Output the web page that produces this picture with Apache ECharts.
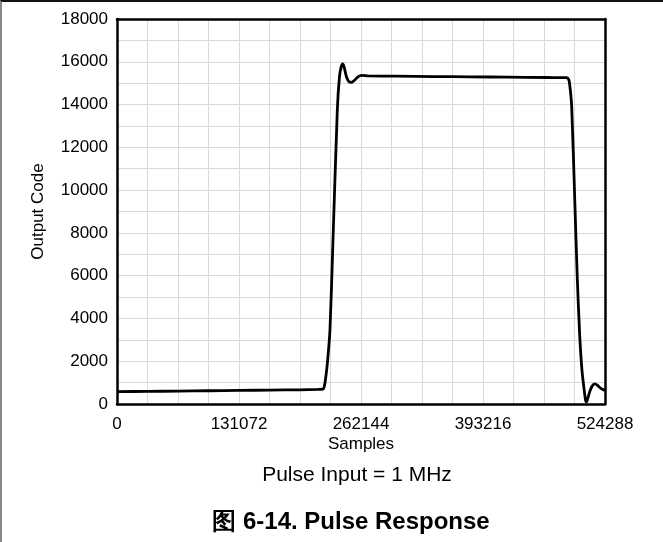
<!DOCTYPE html>
<html>
<head>
<meta charset="utf-8">
<script src="https://cdn.jsdelivr.net/npm/echarts@6/dist/echarts.min.js"></script>
<style>
  html, body { margin: 0; padding: 0; background: #fff; }
  #frame {
    width: 663px; height: 542px; box-sizing: border-box;
    border-top: 2px solid #111; border-left: 2px solid #888;
    position: relative; overflow: hidden;
  }
  #chart { position: absolute; left: -2px; top: -2px; width: 663px; height: 542px; }
</style>
</head>
<body>
<div id="frame"><div id="chart"></div></div>
<script>
// Sample index of each captured point (x) and the ADC output code (y)
const sampleIndex = [
  0, 32768, 65536, 98304, 131072, 163840, 196608, 216000, 221000,
  222500, 224000, 226000, 228800, 232000, 236700, 239000, 241000,
  242500, 244000, 246500, 249000, 252000, 255500, 259000, 263000,
  270000, 300000, 340000, 380000, 420000, 460000, 480000, 483000,
  484500, 486000, 488500, 492000, 494500, 497000, 499500, 501800,
  503500, 504500, 506000, 508500, 511000, 513500, 516000, 519000,
  522000, 524288
];
const outputCode = [
  580, 590, 605, 620, 635, 650, 665, 680, 690,
  780, 1150, 1900, 3460, 7600, 13745, 15300, 15800,
  15900, 15750, 15300, 15080, 15040, 15150, 15300, 15360,
  15340, 15325, 15310, 15295, 15280, 15265, 15258, 15255,
  15230, 15050, 13900, 9250, 5900, 3300, 1600, 700,
  150, 100, 300, 650, 870, 940, 880, 760,
  680, 640
];

// Labelled ticks on each axis
const xTickLabels = [0, 131072, 262144, 393216, 524288];
const yTickLabels = [0, 2000, 4000, 6000, 8000, 10000, 12000, 14000, 16000, 18000];

const xName = 'Samples';
const yName = 'Output Code';
const subTitle = 'Pulse Input = 1 MHz';
const mainTitle = '图 6-14. Pulse Response';

const points = sampleIndex.map((s, i) => [s, outputCode[i]]);

const font = '"Liberation Sans", Arial, sans-serif';
const chart = echarts.init(document.getElementById('chart'), null, { renderer: 'canvas' });

const gridLine = { show: true, lineStyle: { color: '#d9d9d9', width: 1 }, showMinLine: false, showMaxLine: false };
const frameLine = { show: true, onZero: false, lineStyle: { color: '#000', width: 2.5 } };

chart.setOption({
  animation: false,
  backgroundColor: 'transparent',
  graphic: [
    {
      type: 'text', x: 357, y: 475,
      style: {
        text: subTitle, align: 'center', verticalAlign: 'middle',
        font: '21px "Liberation Sans", Arial, sans-serif', fill: '#000'
      }
    },
    {
      type: 'text', x: 351, y: 522,
      style: {
        text: mainTitle, align: 'center', verticalAlign: 'middle',
        font: 'bold 24px "Liberation Sans", Arial, sans-serif', fill: '#000'
      }
    }
  ],
  grid: { left: 117, top: 19, width: 488, height: 385, containLabel: false },
  xAxis: [
    {
      type: 'value', min: 0, max: 524288, interval: 32768, position: 'bottom',
      name: xName, nameLocation: 'middle', nameGap: 32, nameMoveOverlap: false,
      nameTextStyle: { fontFamily: font, fontSize: 17, color: '#000' },
      axisLine: frameLine,
      axisTick: { show: false },
      axisLabel: {
        margin: 12, fontFamily: font, fontSize: 17, color: '#000',
        formatter: v => (xTickLabels.indexOf(v) >= 0 ? String(v) : '')
      },
      splitLine: gridLine
    },
    {
      type: 'value', min: 0, max: 524288, interval: 32768, position: 'top',
      axisLine: frameLine, axisTick: { show: false }, axisLabel: { show: false },
      splitLine: { show: false }
    }
  ],
  yAxis: [
    {
      type: 'value', min: 0, max: 18000, interval: 1000, position: 'left',
      name: yName, nameLocation: 'middle', nameGap: 70, nameRotate: 90, nameMoveOverlap: false,
      nameTextStyle: { fontFamily: font, fontSize: 17, color: '#000' },
      axisLine: frameLine,
      axisTick: { show: false },
      axisLabel: {
        margin: 9, fontFamily: font, fontSize: 17, color: '#000',
        formatter: v => (yTickLabels.indexOf(v) >= 0 ? String(v) : '')
      },
      splitLine: gridLine
    },
    {
      type: 'value', min: 0, max: 18000, interval: 1000, position: 'right',
      axisLine: frameLine, axisTick: { show: false }, axisLabel: { show: false },
      splitLine: { show: false }
    }
  ],
  series: [{
    type: 'line',
    data: points,
    showSymbol: false,
    smooth: 0.25,
    lineStyle: { color: '#000', width: 2.8 },
    z: 5
  }]
});
</script>
</body>
</html>
